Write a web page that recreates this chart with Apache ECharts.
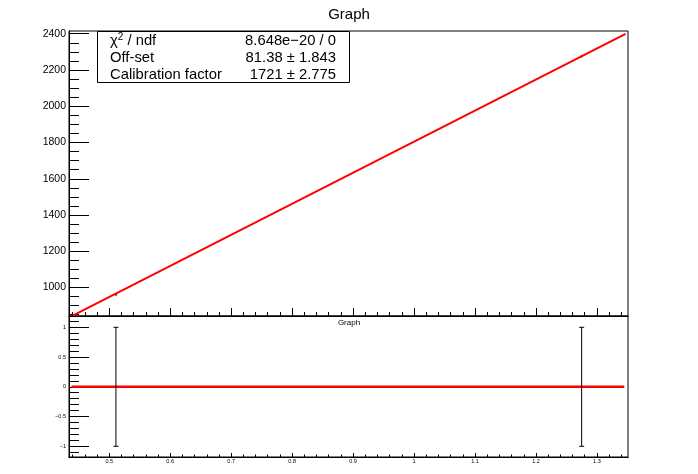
<!DOCTYPE html>
<html>
<head>
<meta charset="utf-8">
<script src="https://cdn.jsdelivr.net/npm/echarts@6/dist/echarts.min.js"></script>
<style>html,body{margin:0;padding:0;background:#fff}#c{width:698px;height:474px}</style>
</head>
<body>
<div id="c"></div>
<script>
// ---- data ----
const xMajorTicks = [0.5, 0.6, 0.7, 0.8, 0.9, 1.0, 1.1, 1.2, 1.3];
const yTopTicks = [1000, 1200, 1400, 1600, 1800, 2000, 2200, 2400];
const yBottomTicks = [-1, -0.5, 0, 0.5, 1];
const pointX = [0.511, 1.275];
const pointY = [961, 2276];
const residualY = [0, 0];
const residualErr = [1, 1];
const fitX = [0.44, 1.347];
const fitY = [845, 2399];
const residualLineX = [0.438, 1.345];
const residualLineY = [0, 0];
const statsLabels = ['χ{sup|2} / ndf', 'Off-set', 'Calibration factor'];
const statsValues = ['8.648e−20 / 0', '81.38 ± 1.843', '1721 ± 2.775'];

// ---- axis ranges ----
const xMin = 0.434, xMax = 1.351;
const yTopMin = 843, yTopMax = 2415;
const yBotMin = -1.18, yBotMax = 1.19;

function steps(a, b, s) { const r = []; for (let v = a; v <= b + 1e-9; v += s) r.push(+v.toFixed(4)); return r; }
const xMinor = steps(0.44, 1.34, 0.02);
const yTopMinor = steps(850, 2400, 50);
const yBotMinor = steps(-1.1, 1.1, 0.1);

const FONT = 'Liberation Sans, Arial, Helvetica, sans-serif';
const black = '#000';
const plain = v => String(v).replace('-', '−');

function xAx(grid, ticks, len, labels, fs) {
  return {
    type: 'value', gridIndex: grid, min: xMin, max: xMax, position: 'bottom',
    axisLine: { show: true, onZero: false, lineStyle: { color: black, width: 1 } },
    axisTick: { show: true, inside: true, length: len, customValues: ticks, lineStyle: { color: black, width: 1 } },
    axisLabel: labels ? { show: true, customValues: ticks, fontSize: fs, color: black, fontFamily: FONT, margin: 1, formatter: plain } : { show: false },
    splitLine: { show: false }
  };
}
function yAx(grid, min, max, ticks, len, labels, fs) {
  return {
    type: 'value', gridIndex: grid, min: min, max: max, position: 'left',
    axisLine: { show: true, onZero: false, lineStyle: { color: black, width: 1 } },
    axisTick: { show: true, inside: true, length: len, customValues: ticks, lineStyle: { color: black, width: 1 } },
    axisLabel: labels ? { show: true, customValues: ticks, fontSize: fs, color: black, fontFamily: FONT, margin: 3, formatter: plain } : { show: false },
    splitLine: { show: false }
  };
}

const chart = echarts.init(document.getElementById('c'), null, { renderer: 'canvas' });

const statsGraphics = [{
  type: 'rect', shape: { x: 97.5, y: 31.5, width: 252, height: 51 },
  style: { fill: '#fff', stroke: black, lineWidth: 1 }, z: 100
}];
const rowY = [41, 58, 74.5];
statsLabels.forEach((t, i) => {
  statsGraphics.push({
    type: 'text', x: 110, y: rowY[i], z: 101,
    style: { text: t, fontSize: 14.8, fontFamily: FONT, fill: black, verticalAlign: 'middle', align: 'left',
      rich: { sup: { fontSize: 10, fontFamily: FONT, verticalAlign: 'top', padding: [0, 0, 8, 0] } } }
  });
  statsGraphics.push({
    type: 'text', x: 336, y: rowY[i], z: 101,
    style: { text: statsValues[i], fontSize: 14.8, fontFamily: FONT, fill: black, verticalAlign: 'middle', align: 'right' }
  });
});

chart.setOption({
  animation: false,
  backgroundColor: '#fff',
  title: [
    { text: 'Graph', left: 'center', top: 2, textStyle: { fontSize: 15, fontWeight: 'normal', color: black, fontFamily: FONT } },
    { text: 'Graph', left: 'center', top: 314, textStyle: { fontSize: 8, fontWeight: 'normal', color: black, fontFamily: FONT } }
  ],
  grid: [
    { left: 69, top: 31, width: 559, height: 285, show: true, borderColor: black, borderWidth: 1, backgroundColor: 'transparent' },
    { left: 69, top: 316, width: 559, height: 141, show: true, borderColor: black, borderWidth: 1, backgroundColor: 'transparent' }
  ],
  xAxis: [
    xAx(0, xMajorTicks, 8, false),
    xAx(0, xMinor, 4, false),
    xAx(1, xMajorTicks, 4, true, 5.5),
    xAx(1, xMinor, 2.5, false)
  ],
  yAxis: [
    yAx(0, yTopMin, yTopMax, yTopTicks, 20, true, 10.5),
    yAx(0, yTopMin, yTopMax, yTopMinor, 10, false),
    yAx(1, yBotMin, yBotMax, yBottomTicks, 20, true, 5.5),
    yAx(1, yBotMin, yBotMax, yBotMinor, 10, false)
  ],
  series: [
    {
      type: 'scatter', xAxisIndex: 0, yAxisIndex: 0, symbol: 'circle', symbolSize: 2.5,
      itemStyle: { color: black }, z: 2,
      data: pointX.map((x, i) => [x, pointY[i]])
    },
    {
      type: 'line', xAxisIndex: 0, yAxisIndex: 0, showSymbol: false, z: 3,
      lineStyle: { color: '#ff0000', width: 2 },
      data: fitX.map((x, i) => [x, fitY[i]])
    },
    {
      type: 'line', xAxisIndex: 2, yAxisIndex: 2, showSymbol: false, z: 3,
      lineStyle: { color: '#ff0000', width: 2.5 },
      data: residualLineX.map((x, i) => [x, residualLineY[i]])
    },
    {
      type: 'custom', xAxisIndex: 2, yAxisIndex: 2, z: 4,
      data: pointX.map((x, i) => [x, residualY[i], residualErr[i]]),
      renderItem: function (params, api) {
        const x = api.value(0), y = api.value(1), e = api.value(2);
        const top = api.coord([x, y + e]);
        const bot = api.coord([x, y - e]);
        const cap = 2.5;
        const st = { stroke: black, lineWidth: 1 };
        return {
          type: 'group', children: [
            { type: 'line', shape: { x1: top[0], y1: top[1], x2: bot[0], y2: bot[1] }, style: st },
            { type: 'line', shape: { x1: top[0] - cap, y1: top[1], x2: top[0] + cap, y2: top[1] }, style: st },
            { type: 'line', shape: { x1: bot[0] - cap, y1: bot[1], x2: bot[0] + cap, y2: bot[1] }, style: st }
          ]
        };
      }
    }
  ],
  graphic: statsGraphics
});
</script>
</body>
</html>
